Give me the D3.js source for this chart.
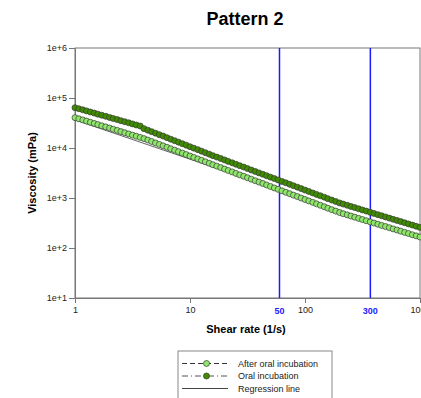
<!DOCTYPE html>
<html>
<head>
<meta charset="utf-8">
<script src="https://cdn.jsdelivr.net/npm/d3@7"></script>
<style>
  body { margin: 0; background: #fff; }
  text { font-family: "Liberation Sans", Arial, sans-serif; }
</style>
</head>
<body>
<svg id="chart" width="421" height="398"></svg>
<script>
// shear rates (1/s), 30 points per decade
var shearRate = [
  1, 1.08, 1.17, 1.26, 1.36, 1.47, 1.58, 1.71, 1.85, 2.00, 2.15, 2.33, 2.51, 2.71, 2.93, 3.16, 3.41, 3.69, 3.98, 4.30, 4.64, 5.01, 5.41, 5.84, 6.31, 6.81, 7.36, 7.94, 8.58, 9.26,
  10, 10.8, 11.7, 12.6, 13.6, 14.7, 15.8, 17.1, 18.5, 20.0, 21.5, 23.3, 25.1, 27.1, 29.3, 31.6, 34.1, 36.9, 39.8, 43.0, 46.4, 50.1, 54.1, 58.4, 63.1, 68.1, 73.6, 79.4, 85.8, 92.6,
  100, 108, 117, 126, 136, 147, 158, 171, 185, 200, 215, 233, 251, 271, 293, 316, 341, 369, 398, 430, 464, 501, 541, 584, 631, 681, 736, 794, 858, 926,
  1000
];

// viscosity (mPa) after oral incubation
var afterOral = [
  40500, 38400, 36400, 34500, 32700, 31000, 29400, 27800, 26400, 25000, 23700, 22500, 21300, 20200, 19100, 18100, 17200, 16300, 15400, 14420, 13490, 12620, 11800, 11040, 10330, 9660, 9040, 8450, 7910, 7400,
  6920, 6470, 6050, 5660, 5300, 4950, 4630, 4340, 4060, 3790, 3550, 3320, 3100, 2900, 2720, 2540, 2380, 2220, 2080, 1950, 1820, 1700, 1590, 1490, 1390, 1300, 1220, 1140, 1070, 998,
  933, 873, 817, 764, 715, 668, 625, 585, 547, 512, 485, 460, 436, 413, 391, 371, 351, 333, 316, 299, 283, 269, 255, 241, 229, 217, 205, 195, 184, 175,
  166
];

// viscosity (mPa) oral incubation
var oral = [
  64100, 61000, 58000, 55200, 52500, 50000, 47500, 45200, 43000, 40900, 38900, 37000, 35200, 33500, 31900, 30300, 28900, 27500, 24400, 22700, 21200, 19800, 18500, 17300, 16100, 15000, 14000, 13100, 12200, 11400,
  10600, 9930, 9270, 8650, 8070, 7530, 7030, 6580, 6160, 5770, 5400, 5050, 4730, 4430, 4150, 3880, 3630, 3400, 3180, 2980, 2790, 2610, 2450, 2290, 2140, 2010, 1880, 1760, 1650, 1540,
  1440, 1350, 1260, 1180, 1110, 1040, 971, 908, 851, 796, 755, 715, 678, 642, 608, 577, 547, 518, 491, 465, 441, 418, 396, 375, 356, 337, 319, 303, 287, 272,
  258
];

// regression line end points
var regressionX = [1, 1000];
var regressionY = [36500, 160];

// blue marker lines
var markValues = [60, 370];
var markLabels = ["50", "300"];

var xTicks = [1, 10, 100, 1000];
var yTicks = [1e1, 1e2, 1e3, 1e4, 1e5, 1e6];

var legendLabels = ["After oral incubation", "Oral incubation", "Regression line"];

var lightFill = "#8ee66a";
var darkFill = "#3f8c00";

var svg = d3.select("#chart");
var margin = { top: 48, left: 75 };
var plotW = 345, plotH = 250;

var x = d3.scaleLog().domain([1, 1000]).range([margin.left, margin.left + plotW]);
var y = d3.scaleLog().domain([10, 1e6]).range([margin.top + plotH, margin.top]);

// title
svg.append("text")
  .attr("x", 245).attr("y", 25)
  .attr("text-anchor", "middle")
  .style("font-size", "18px").style("font-weight", "bold")
  .text("Pattern 2");

// frame
svg.append("rect")
  .attr("x", margin.left).attr("y", margin.top)
  .attr("width", plotW).attr("height", plotH)
  .attr("fill", "none").attr("stroke", "#777").attr("stroke-width", 1);

// axes
var xAxis = svg.append("g")
  .attr("transform", "translate(0," + (margin.top + plotH) + ")")
  .call(d3.axisBottom(x).tickValues(xTicks).tickFormat(d3.format("d")).tickSize(5).tickPadding(4));
var yAxis = svg.append("g")
  .attr("transform", "translate(" + margin.left + ",0)")
  .call(d3.axisLeft(y).tickValues(yTicks)
    .tickFormat(function(d) { return "1e+" + Math.round(Math.log10(d)); })
    .tickSize(6).tickPadding(2));
[xAxis, yAxis].forEach(function(g) {
  g.select(".domain").attr("stroke", "#777");
  g.selectAll(".tick line").attr("stroke", "#777");
  g.selectAll(".tick text").attr("fill", "#222").style("font-size", "9px")
    .style("font-family", "'Liberation Sans', Arial, sans-serif");
});

// blue marker lines
svg.selectAll(".mark")
  .data(markValues)
  .enter().append("line")
  .attr("x1", function(d) { return x(d); }).attr("x2", function(d) { return x(d); })
  .attr("y1", margin.top).attr("y2", margin.top + plotH)
  .attr("stroke", "#1a1aff").attr("stroke-width", 1.5);
svg.selectAll(".markLabel")
  .data(markValues)
  .enter().append("text")
  .attr("x", function(d) { return x(d); })
  .attr("y", margin.top + plotH + 16)
  .attr("text-anchor", "middle")
  .attr("fill", "#2222ff")
  .style("font-size", "9px").style("font-weight", "bold")
  .text(function(d, i) { return markLabels[i]; });

// axis titles
svg.append("text")
  .attr("x", 246).attr("y", 333)
  .attr("text-anchor", "middle")
  .style("font-size", "11px").style("font-weight", "bold")
  .text("Shear rate (1/s)");
svg.append("text")
  .attr("transform", "translate(36," + (margin.top + plotH / 2) + ") rotate(-90)")
  .attr("text-anchor", "middle")
  .style("font-size", "11px").style("font-weight", "bold")
  .text("Viscosity (mPa)");

// regression line
var regLine = d3.line().x(function(d) { return x(d[0]); }).y(function(d) { return y(d[1]); });
svg.append("path")
  .datum(d3.zip(regressionX, regressionY))
  .attr("d", regLine)
  .attr("fill", "none").attr("stroke", "#666").attr("stroke-width", 1);

function drawSeries(values, fill, dash) {
  var pts = d3.zip(shearRate, values);
  svg.append("path")
    .datum(pts)
    .attr("d", regLine)
    .attr("fill", "none").attr("stroke", "#444").attr("stroke-width", 0.8)
    .attr("stroke-dasharray", dash);
  svg.append("g").selectAll("circle")
    .data(pts)
    .enter().append("circle")
    .attr("cx", function(d) { return x(d[0]); })
    .attr("cy", function(d) { return y(d[1]); })
    .attr("r", 3)
    .attr("fill", fill)
    .attr("stroke", "#3a3a3a").attr("stroke-width", 0.7);
}
drawSeries(afterOral, lightFill, "4,2");
drawSeries(oral, darkFill, "6,2,1,2");

// legend
var lg = svg.append("g");
lg.append("rect")
  .attr("x", 178).attr("y", 351).attr("width", 154).attr("height", 60)
  .attr("fill", "#fff").attr("stroke", "#888").attr("stroke-width", 1);
var legendStyles = [
  { dash: "5,3", stroke: "#333", fill: lightFill },
  { dash: "6,3,1,3", stroke: "#555", fill: darkFill },
  { dash: null, stroke: "#444", fill: null }
];
legendLabels.forEach(function(label, i) {
  var ly = 363.5 + i * 12.5;
  var s = legendStyles[i];
  lg.append("line")
    .attr("x1", 182).attr("x2", 228).attr("y1", ly).attr("y2", ly)
    .attr("stroke", s.stroke).attr("stroke-width", 1)
    .attr("stroke-dasharray", s.dash);
  if (s.fill) {
    lg.append("circle")
      .attr("cx", 206.5).attr("cy", ly).attr("r", 3)
      .attr("fill", s.fill).attr("stroke", "#3a3a3a").attr("stroke-width", 0.7);
  }
  lg.append("text")
    .attr("x", 238).attr("y", ly + 3)
    .style("font-size", "9px").attr("fill", "#222")
    .text(label);
});
</script>
</body>
</html>
